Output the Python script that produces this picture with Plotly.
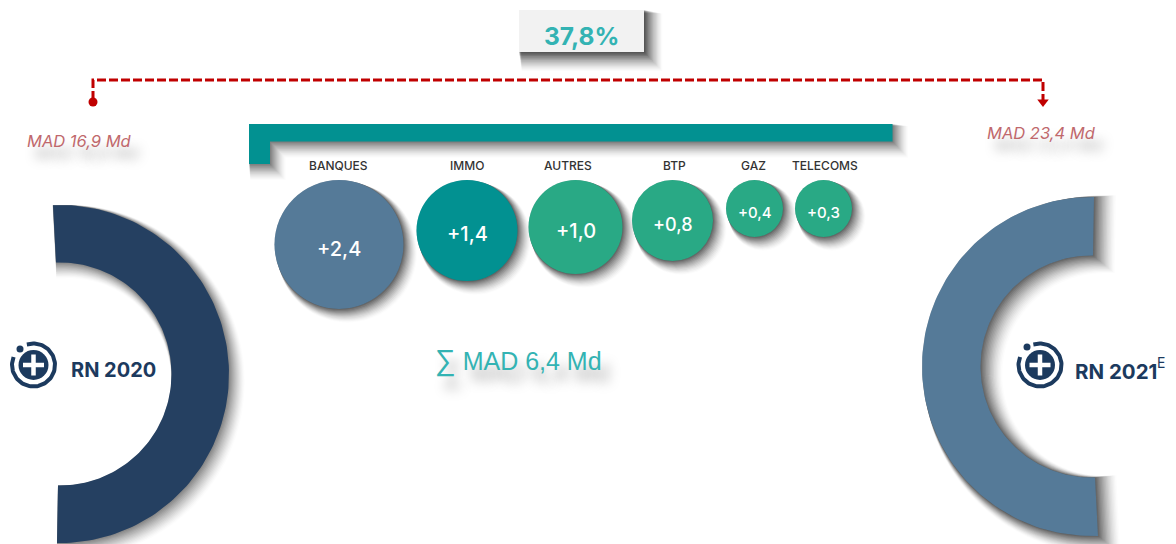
import numpy as np
import plotly.graph_objects as go

# ---- data ----
categories = ["BANQUES", "IMMO", "AUTRES", "BTP", "GAZ", "TELECOMS"]
values = [2.4, 1.4, 1.0, 0.8, 0.4, 0.3]
total_label = '<span style="font-size:29px">∑</span> MAD 6,4 Md'
growth_label = "37,8%"
rn_labels = ["RN 2020", "RN 2021"]
rn_values = ["MAD 16,9 Md", "MAD 23,4 Md"]

# ---- layout / style (pixels of the 1176x544 canvas) ----
W, H = 1176, 544
bubble_x = [339, 467, 575.5, 672.5, 754.5, 823.5]
bubble_top = 180
bubble_d = [129, 101, 94, 81, 57, 57]
bubble_colors = ["#557A98", "#029191", "#29A985", "#29A985", "#29A985", "#29A985"]
value_sizes = [20, 20, 20, 18, 15, 15]
NAVY, STEEL, TEAL, TXT_TEAL, RED = "#254061", "#557A98", "#029191", "#33B3B3", "#C00000"
ICON = "#1C3A5E"

shapes = []


def layer_alphas(n, amax):
    """Per-layer alpha so stacked copies give a smooth fade from amax to zero."""
    target = [amax * (1 - k / (n + 1)) ** 1.5 for k in range(n + 1)]
    out = {}
    below = 0.0
    for k in range(n, -1, -1):
        out[k] = 1 - (1 - target[k]) / (1 - below)
        below = target[k]
    return out


def soft_shadow(path=None, circle=None, fx=0.6, fy=0.6, g=0.5, n=14, amax=0.55):
    """Layers slide towards the lower right while they grow: no hard band, no spill up-left."""
    al = layer_alphas(n, amax)
    for k in range(n, -1, -1):
        ox, oy, grow = k * fx, k * fy, k * g
        if path is not None:
            shapes.append(dict(type="path", path=path(ox, oy), xref="x", yref="y", layer="below",
                               fillcolor="black", opacity=al[k],
                               line=dict(color="black", width=2 * grow + 0.01)))
        else:
            cx, cy, r = circle
            rr = r + grow
            shapes.append(dict(type="circle", xref="x", yref="y", layer="below",
                               x0=cx + ox - rr, x1=cx + ox + rr, y0=cy + oy - rr, y1=cy + oy + rr,
                               fillcolor="black", opacity=al[k], line_width=0))


def poly_path(xs, ys):
    def f(ox, oy):
        pts = [f"{x + ox:.1f},{y + oy:.1f}" for x, y in zip(xs, ys)]
        return "M" + " L".join(pts) + " Z"
    return f


def arc_outline(cx, cy, ro, ri, top_o, top_i, bot_o, bot_i, side):
    """Half ring; side=+1 bulges right, -1 bulges left; ends given by x of each corner."""
    def ang(x, y_sign, r):
        return np.arctan2(y_sign * np.sqrt(max(r**2 - (x - cx)**2, 0)), x - cx)
    a0, a1 = ang(top_o, -1, ro), ang(bot_o, 1, ro)
    b0, b1 = ang(top_i, -1, ri), ang(bot_i, 1, ri)
    if side < 0:
        a0, a1 = (a0 + 2 * np.pi) % (2 * np.pi), (a1 + 2 * np.pi) % (2 * np.pi)
        b0, b1 = (b0 + 2 * np.pi) % (2 * np.pi), (b1 + 2 * np.pi) % (2 * np.pi)
    t = np.linspace(a0, a1, 120)
    u = np.linspace(b1, b0, 120)
    xs = np.r_[cx + ro * np.cos(t), cx + ri * np.cos(u)]
    ys = np.r_[cy + ro * np.sin(t), cy + ri * np.sin(u)]
    return xs, ys


arc_l = arc_outline(60, 374, 169, 111.5, 53, 56, 57, 58, 1)
arc_r = arc_outline(1091.5, 366.5, 169.5, 111, 1094, 1093, 1098, 1095, -1)
bar_x = [249, 892.5, 892.5, 270, 270, 249]
bar_y = [124, 124, 141.5, 141.5, 164, 164]
box_x = [519, 644, 644, 519]
box_y = [10, 10, 52, 52]

soft_shadow(path=poly_path(box_x, box_y), fx=0.75, fy=0.8, g=0.55, n=14, amax=0.7)
soft_shadow(path=poly_path(bar_x, bar_y), fx=0.6, fy=0.65, g=0.5, n=14, amax=0.5)
soft_shadow(path=poly_path(*arc_l), fx=0.55, fy=0.55, g=0.55, n=14, amax=0.45)
soft_shadow(path=poly_path(*arc_r), fx=0.75, fy=0.5, g=0.6, n=16, amax=0.6)
for x, d in zip(bubble_x, bubble_d):
    soft_shadow(circle=(x, bubble_top + d / 2, d / 2), fx=0.65, fy=0.65, g=0.4, n=13, amax=0.65)

fig = go.Figure()


def poly(xs, ys, color):
    fig.add_trace(go.Scatter(x=list(xs), y=list(ys), mode="lines", fill="toself", fillcolor=color,
                             line=dict(width=0, color=color), hoverinfo="skip"))


poly(*arc_l, NAVY)
poly(*arc_r, STEEL)
poly(bar_x, bar_y, TEAL)
poly(box_x, box_y, "#F2F2F2")

# dashed bracket with its two ends
fig.add_trace(go.Scatter(x=[93, 93, 1043, 1043], y=[100, 80, 80, 100], mode="lines",
                         line=dict(color=RED, width=3, dash="9px,3px"), hoverinfo="skip"))
fig.add_trace(go.Scatter(x=[93], y=[102], mode="markers",
                         marker=dict(color=RED, size=9), hoverinfo="skip"))
fig.add_trace(go.Scatter(x=[1043], y=[102], mode="markers",
                         marker=dict(color=RED, size=10, symbol="triangle-down"), hoverinfo="skip"))

# bubbles
fig.add_trace(go.Scatter(
    x=bubble_x, y=[bubble_top + d / 2 for d in bubble_d], mode="markers",
    marker=dict(size=bubble_d, color=bubble_colors, line_width=0, opacity=1),
    customdata=values, hovertemplate="%{customdata}<extra></extra>"))

# icons
for (cx, cy, dx, dy) in [(33.5, 365, 20, 349), (1040, 365, 1027, 347)]:
    t = np.radians(np.linspace(108, -202, 90))
    fig.add_trace(go.Scatter(x=cx + 21.5 * np.cos(t), y=cy - 21.5 * np.sin(t), mode="lines",
                             line=dict(color=ICON, width=4), hoverinfo="skip"))
    fig.add_trace(go.Scatter(x=[cx], y=[cy], mode="markers",
                             marker=dict(color=ICON, size=30), hoverinfo="skip"))
    fig.add_trace(go.Scatter(x=[dx], y=[dy], mode="markers",
                             marker=dict(color=ICON, size=7), hoverinfo="skip"))
    fig.add_trace(go.Scatter(x=[cx], y=[cy], mode="markers",
                             marker=dict(color="white", size=15, symbol="cross-thin",
                                         line=dict(color="white", width=4.5)), hoverinfo="skip"))

ann = []


def label(x, y, text, size, color, family="Inter", shadow=None, weight=None, style=None):
    font = dict(size=size, color=color, family=family)
    if shadow:
        font["shadow"] = shadow
    if weight:
        font["weight"] = weight
    if style:
        font["style"] = style
    ann.append(dict(x=x, y=y, xref="x", yref="y", text=text, showarrow=False, font=font,
                    xanchor="center", yanchor="middle"))


SOFT = "8px 12px 12px rgba(0,0,0,0.35)"
label_x = [338.5, 467, 568, 674, 753, 824.5]
label_y = [165.5, 165.5, 165.5, 165, 165.5, 165]
for x, y, c in zip(label_x, label_y, categories):
    label(x, y, c, 12, "#333333", weight=500)
text_y = [249, 234, 231, 224, 212, 212]
for x, y, v, s in zip(bubble_x, text_y, values, value_sizes):
    label(x, y, "+" + f"{v:.1f}".replace(".", ","), s, "white", weight=500)

label(581.5, 36, growth_label, 24.5, TXT_TEAL, weight=700)
label(518, 360.5, total_label, 25, TXT_TEAL, family="Liberation Sans", shadow=SOFT)
label(79, 141, rn_values[0], 16.5, "#C0686C", style="italic", shadow=SOFT)
label(1041.5, 133, rn_values[1], 16.5, "#C0686C", style="italic", shadow=SOFT)
label(113, 370, rn_labels[0], 20, ICON, weight=700)
label(1116, 371, rn_labels[1], 20.5, ICON, weight=700)
label(1161, 362, "E", 14, ICON)

fig.update_layout(
    width=W, height=H, autosize=False, showlegend=False,
    margin=dict(l=0, r=0, t=0, b=0), paper_bgcolor="white", plot_bgcolor="white",
    xaxis=dict(range=[0, W], visible=False, fixedrange=True),
    yaxis=dict(range=[H, 0], visible=False, fixedrange=True),
    shapes=shapes, annotations=ann,
)
fig.write_html("out.html", config={"displayModeBar": False},
               post_script="document.body.style.margin='0';document.documentElement.style.overflow='hidden';")
